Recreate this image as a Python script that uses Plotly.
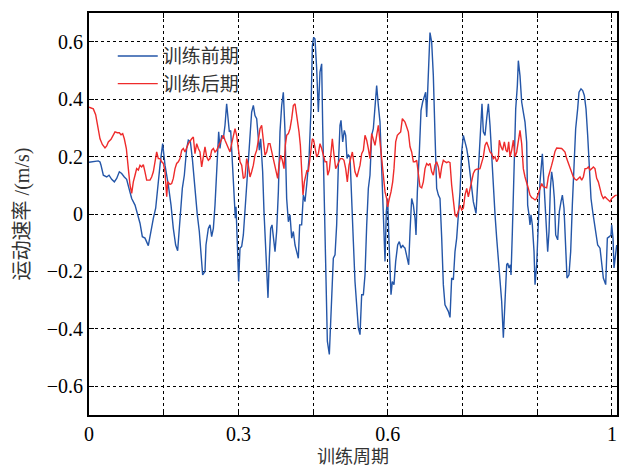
import plotly.graph_objects as go

# ---- data: 训练前期 (before training) ----
pre_x = [0, 0.0054, 0.0120, 0.0187, 0.0221, 0.0241, 0.0288, 0.0321, 0.0355, 0.0402, 0.0455, 0.0509, 0.0556,
         0.0609, 0.0656, 0.0709, 0.0756, 0.0803, 0.0857, 0.0924, 0.0977, 0.1024, 0.1071, 0.1124, 0.1191, 0.1238,
         0.1292, 0.1339, 0.1379, 0.1426, 0.1479, 0.1526, 0.1593, 0.1647, 0.1693, 0.1740, 0.1780, 0.1827, 0.1874,
         0.1914, 0.1961, 0.1995, 0.2035, 0.2075, 0.2095, 0.2128, 0.2175, 0.2215, 0.2262, 0.2282, 0.2329, 0.2349,
         0.2396, 0.2430, 0.2463, 0.2497, 0.2530, 0.2564, 0.2604, 0.2630, 0.2664, 0.2697, 0.2731, 0.2764, 0.2798,
         0.2818, 0.2845, 0.2865, 0.2898, 0.2925, 0.2938, 0.2952, 0.2979, 0.3005, 0.3032, 0.3066, 0.3099, 0.3132,
         0.3166, 0.3199, 0.3233, 0.3266, 0.3300, 0.3333, 0.3367, 0.3400, 0.3420, 0.3447, 0.3487, 0.3514, 0.3554,
         0.3594, 0.3621, 0.3648, 0.3675, 0.3701, 0.3735, 0.3768, 0.3802, 0.3835, 0.3869, 0.3902, 0.3936, 0.3969,
         0.4003, 0.4036, 0.4070, 0.4103, 0.4137, 0.4170, 0.4203, 0.4230, 0.4270, 0.4304, 0.4337, 0.4371, 0.4418,
         0.4458, 0.4485, 0.4511, 0.4538, 0.4572, 0.4605, 0.4638, 0.4672, 0.4692, 0.4725, 0.4759, 0.4786, 0.4826,
         0.4859, 0.4906, 0.4940, 0.4973, 0.5007, 0.5040, 0.5060, 0.5094, 0.5127, 0.5154, 0.5181, 0.5207, 0.5241,
         0.5274, 0.5308, 0.5341, 0.5375, 0.5408, 0.5442, 0.5475, 0.5509, 0.5542, 0.5576, 0.5609, 0.5642, 0.5676,
         0.5709, 0.5743, 0.5776, 0.5810, 0.5843, 0.5877, 0.5910, 0.5944, 0.5970, 0.5997, 0.6024, 0.6064, 0.6091,
         0.6124, 0.6158, 0.6198, 0.6231, 0.6265, 0.6299, 0.6312, 0.6345, 0.6379, 0.6419, 0.6446, 0.6479, 0.6513,
         0.6546, 0.6566, 0.6593, 0.6633, 0.6667, 0.6700, 0.6734, 0.6760, 0.6780, 0.6814, 0.6847, 0.6881, 0.6914,
         0.6948, 0.6981, 0.7015, 0.7048, 0.7082, 0.7115, 0.7148, 0.7182, 0.7215, 0.7249, 0.7282, 0.7316, 0.7349,
         0.7383, 0.7416, 0.7450, 0.7483, 0.7517, 0.7550, 0.7584, 0.7617, 0.7650, 0.7684, 0.7717, 0.7771, 0.7805,
         0.7838, 0.7871, 0.7891, 0.7918, 0.7952, 0.7985, 0.8019, 0.8052, 0.8086, 0.8119, 0.8153, 0.8186, 0.8219,
         0.8253, 0.8286, 0.8320, 0.8353, 0.8387, 0.8407, 0.8434, 0.8460, 0.8474, 0.8501, 0.8534, 0.8568, 0.8601,
         0.8621, 0.8654, 0.8688, 0.8721, 0.8755, 0.8788, 0.8808, 0.8835, 0.8855, 0.8875, 0.8902, 0.8936, 0.8956,
         0.8989, 0.9023, 0.9056, 0.9103, 0.9136, 0.9170, 0.9210, 0.9237, 0.9264, 0.9290, 0.9317, 0.9344, 0.9371,
         0.9411, 0.9444, 0.9478, 0.9505, 0.9538, 0.9565, 0.9598, 0.9638, 0.9672, 0.9705, 0.9739, 0.9772, 0.9812,
         0.9839, 0.9879, 0.9913, 0.9946, 0.9980, 1.0013, 1.0047, 1.0080, 1.0114, 1.0147, 1.0181, 1.0214, 1.0261,
         1.0294, 1.0328, 1.0375, 1.0408, 1.0448, 1.0482, 1.0495, 1.0522, 1.0542, 1.0576, 1.0596]
pre_y = [0.180, 0.181, 0.184, 0.185, 0.181, 0.170, 0.135, 0.133, 0.129, 0.135, 0.121, 0.112, 0.124,
         0.147, 0.141, 0.129, 0.121, 0.089, 0.054, 0.031, -0.003, -0.032, -0.079, -0.084, -0.110, -0.061,
         -0.015, 0.020, 0.101, 0.170, 0.245, 0.170, 0.101, 0.031, -0.050, -0.108, -0.128, -0.027, 0.089,
         0.135, 0.228, 0.257, 0.253, 0.193, 0.147, 0.077, -0.003, -0.061, -0.177, -0.212, -0.200, -0.108,
         -0.050, -0.038, -0.079, -0.050, 0.031, 0.158, 0.286, 0.228, 0.274, 0.262, 0.309, 0.384, 0.320,
         0.286, 0.291, 0.216, 0.101, 0.025, -0.015, 0.025, -0.084, -0.235, -0.119, -0.113, -0.073, 0.008,
         0.077, 0.170, 0.274, 0.355, 0.378, 0.343, 0.332, 0.274, 0.222, 0.262, 0.147, 0.008, -0.154,
         -0.292, -0.154, -0.050, -0.038, -0.073, -0.131, -0.061, 0.077, 0.286, 0.378, 0.424, 0.286, 0.054,
         -0.027, -0.003, -0.084, -0.061, -0.108, -0.131, -0.154, -0.038, -0.038, 0.066, 0.043, 0.101, 0.193,
         0.366, 0.586, 0.615, 0.609, 0.505, 0.355, 0.494, 0.523, 0.309, 0.020, -0.269, -0.443, -0.489,
         -0.362, -0.154, -0.142, -0.038, 0.170, 0.309, 0.326, 0.251, 0.291, 0.274, 0.193, 0.205, 0.199,
         0.077, -0.096, -0.235, -0.327, -0.397, -0.420, -0.281, -0.281, -0.212, -0.038, 0.089, 0.135, 0.274,
         0.297, 0.366, 0.447, 0.378, 0.320, 0.158, -0.027, -0.165, 0.008, 0.054, -0.096, -0.281, -0.235,
         -0.246, -0.165, -0.108, -0.096, -0.119, -0.108, -0.113, -0.119, -0.142, -0.177, -0.061, 0.054, 0.031,
         -0.015, -0.073, 0.077, 0.216, 0.361, 0.390, 0.413, 0.424, 0.338, 0.505, 0.632, 0.598, 0.482,
         0.274, 0.089, 0.066, 0.054, -0.084, -0.246, -0.316, -0.327, -0.339, -0.360, -0.223, -0.229, -0.131,
         -0.084, -0.015, 0.077, 0.216, 0.274, 0.251, 0.228, 0.193, 0.135, 0.077, 0.043, 0.002, 0.124,
         0.239, 0.355, 0.384, 0.286, 0.274, 0.332, 0.384, 0.309, 0.193, 0.077, -0.003, -0.084, -0.154,
         -0.223, -0.304, -0.431, -0.327, -0.177, -0.171, -0.188, -0.177, -0.212, -0.061, 0.158, 0.366, 0.447,
         0.534, 0.482, 0.390, 0.355, 0.320, 0.251, 0.031, -0.003, -0.038, -0.003, -0.038, -0.131, -0.246,
         -0.177, -0.003, 0.112, 0.210, 0.112, 0.008, -0.131, -0.061, 0.089, 0.147, 0.112, 0.054, -0.073,
         -0.090, 0.008, 0.043, 0.066, 0.020, -0.084, -0.223, -0.212, -0.131, 0.031, 0.170, 0.297, 0.366,
         0.424, 0.436, 0.430, 0.413, 0.366, 0.274, 0.158, 0.054, 0.008, -0.027, -0.073, -0.108, -0.119,
         -0.165, -0.223, -0.246, -0.084, -0.079, -0.073, -0.038, -0.084, -0.188, -0.142, -0.108]

# ---- data: 训练后期 (after training) ----
post_x = [0, 0.0087, 0.0134, 0.0174, 0.0221, 0.0268, 0.0321, 0.0355, 0.0388, 0.0442, 0.0489, 0.0522, 0.0569,
          0.0609, 0.0643, 0.0676, 0.0709, 0.0750, 0.0790, 0.0823, 0.0857, 0.0890, 0.0924, 0.0957, 0.0991, 0.1024,
          0.1058, 0.1091, 0.1124, 0.1158, 0.1225, 0.1258, 0.1292, 0.1325, 0.1359, 0.1392, 0.1426, 0.1459, 0.1493,
          0.1526, 0.1560, 0.1580, 0.1627, 0.1660, 0.1693, 0.1727, 0.1760, 0.1794, 0.1827, 0.1861, 0.1894, 0.1928,
          0.1961, 0.1995, 0.2062, 0.2095, 0.2128, 0.2162, 0.2195, 0.2229, 0.2262, 0.2296, 0.2329, 0.2363, 0.2396,
          0.2430, 0.2463, 0.2497, 0.2530, 0.2564, 0.2597, 0.2630, 0.2664, 0.2697, 0.2731, 0.2764, 0.2798, 0.2831,
          0.2865, 0.2898, 0.2932, 0.2965, 0.2999, 0.3032, 0.3066, 0.3099, 0.3132, 0.3166, 0.3199, 0.3233, 0.3266,
          0.3300, 0.3333, 0.3367, 0.3400, 0.3434, 0.3467, 0.3501, 0.3534, 0.3568, 0.3601, 0.3634, 0.3668, 0.3701,
          0.3735, 0.3768, 0.3788, 0.3815, 0.3849, 0.3882, 0.3916, 0.3942, 0.3969, 0.4003, 0.4036, 0.4070, 0.4103,
          0.4137, 0.4170, 0.4203, 0.4217, 0.4244, 0.4270, 0.4297, 0.4324, 0.4351, 0.4377, 0.4404, 0.4431, 0.4458,
          0.4485, 0.4511, 0.4538, 0.4572, 0.4605, 0.4638, 0.4672, 0.4705, 0.4739, 0.4772, 0.4793, 0.4826, 0.4859,
          0.4886, 0.4913, 0.4953, 0.4987, 0.5020, 0.5047, 0.5087, 0.5120, 0.5154, 0.5187, 0.5221, 0.5254, 0.5288,
          0.5315, 0.5341, 0.5381, 0.5408, 0.5442, 0.5475, 0.5509, 0.5542, 0.5576, 0.5609, 0.5642, 0.5676, 0.5709,
          0.5743, 0.5776, 0.5810, 0.5843, 0.5877, 0.5910, 0.5944, 0.5977, 0.5997, 0.6031, 0.6064, 0.6098, 0.6124,
          0.6158, 0.6191, 0.6225, 0.6258, 0.6292, 0.6319, 0.6345, 0.6379, 0.6412, 0.6446, 0.6479, 0.6513, 0.6546,
          0.6580, 0.6613, 0.6646, 0.6680, 0.6713, 0.6747, 0.6780, 0.6814, 0.6847, 0.6881, 0.6914, 0.6948, 0.6981,
          0.7015, 0.7048, 0.7082, 0.7115, 0.7148, 0.7182, 0.7215, 0.7249, 0.7282, 0.7316, 0.7349, 0.7383, 0.7416,
          0.7450, 0.7483, 0.7517, 0.7550, 0.7584, 0.7617, 0.7650, 0.7684, 0.7717, 0.7751, 0.7784, 0.7851, 0.7885,
          0.7918, 0.7952, 0.7985, 0.8019, 0.8052, 0.8086, 0.8119, 0.8153, 0.8186, 0.8219, 0.8239, 0.8273, 0.8306,
          0.8340, 0.8373, 0.8400, 0.8427, 0.8454, 0.8487, 0.8521, 0.8554, 0.8588, 0.8621, 0.8654, 0.8688, 0.8721,
          0.8755, 0.8788, 0.8822, 0.8855, 0.8889, 0.8922, 0.8956, 0.8989, 0.9023, 0.9056, 0.9090, 0.9123, 0.9190,
          0.9223, 0.9257, 0.9290, 0.9324, 0.9357, 0.9391, 0.9458, 0.9491, 0.9525, 0.9558, 0.9592, 0.9625, 0.9658,
          0.9692, 0.9725, 0.9759, 0.9792, 0.9826, 0.9859, 0.9893, 0.9926, 0.9960, 0.9993, 1.0027, 1.0060, 1.0094,
          1.0127, 1.0160, 1.0194, 1.0227, 1.0261, 1.0294, 1.0328, 1.0361, 1.0395, 1.0428, 1.0462, 1.0495, 1.0528,
          1.0562, 1.0596]
post_y = [0.372, 0.366, 0.346, 0.309, 0.262, 0.242, 0.230, 0.237, 0.251, 0.260, 0.274, 0.286, 0.283,
          0.283, 0.276, 0.280, 0.262, 0.228, 0.158, 0.101, 0.072, 0.112, 0.135, 0.158, 0.153, 0.170,
          0.164, 0.172, 0.147, 0.118, 0.118, 0.129, 0.147, 0.182, 0.216, 0.193, 0.193, 0.182, 0.176,
          0.147, 0.060, 0.112, 0.103, 0.106, 0.124, 0.158, 0.176, 0.182, 0.193, 0.222, 0.228, 0.216,
          0.234, 0.245, 0.262, 0.268, 0.210, 0.245, 0.228, 0.216, 0.164, 0.205, 0.234, 0.199, 0.187,
          0.193, 0.222, 0.228, 0.216, 0.222, 0.234, 0.245, 0.262, 0.274, 0.257, 0.245, 0.228, 0.216,
          0.245, 0.274, 0.297, 0.274, 0.216, 0.182, 0.170, 0.124, 0.129, 0.193, 0.170, 0.129, 0.147,
          0.170, 0.205, 0.222, 0.257, 0.297, 0.309, 0.251, 0.205, 0.216, 0.245, 0.245, 0.216, 0.193,
          0.158, 0.141, 0.124, 0.170, 0.205, 0.187, 0.158, 0.239, 0.274, 0.280, 0.297, 0.332, 0.378,
          0.384, 0.343, 0.320, 0.286, 0.239, 0.147, 0.066, 0.112, 0.135, 0.153, 0.147, 0.193, 0.239,
          0.262, 0.257, 0.228, 0.199, 0.210, 0.245, 0.228, 0.199, 0.182, 0.182, 0.135, 0.153, 0.222,
          0.262, 0.216, 0.158, 0.170, 0.182, 0.193, 0.193, 0.187, 0.158, 0.112, 0.170, 0.193, 0.216,
          0.182, 0.147, 0.129, 0.147, 0.170, 0.210, 0.222, 0.274, 0.257, 0.228, 0.193, 0.280, 0.257,
          0.239, 0.274, 0.309, 0.251, 0.193, 0.135, 0.077, 0.054, 0.025, 0.054, 0.077, 0.112, 0.158,
          0.251, 0.274, 0.280, 0.286, 0.332, 0.326, 0.320, 0.303, 0.286, 0.234, 0.216, 0.182, 0.182,
          0.187, 0.147, 0.095, 0.091, 0.112, 0.158, 0.176, 0.170, 0.176, 0.147, 0.135, 0.170, 0.182,
          0.164, 0.124, 0.164, 0.187, 0.182, 0.179, 0.182, 0.179, 0.101, 0.043, -0.003, -0.009, 0.008,
          0.031, 0.014, 0.020, 0.066, 0.089, 0.060, 0.089, 0.112, 0.141, 0.153, 0.156, 0.158, 0.182,
          0.199, 0.239, 0.251, 0.234, 0.216, 0.210, 0.193, 0.199, 0.182, 0.193, 0.257, 0.234, 0.222,
          0.251, 0.222, 0.216, 0.251, 0.199, 0.222, 0.257, 0.199, 0.216, 0.262, 0.291, 0.245, 0.158,
          0.129, 0.112, 0.089, 0.066, 0.057, 0.054, 0.049, 0.054, 0.072, 0.089, 0.106, 0.095, 0.091,
          0.129, 0.147, 0.170, 0.193, 0.218, 0.230, 0.228, 0.228, 0.222, 0.216, 0.193, 0.176, 0.158,
          0.147, 0.129, 0.121, 0.118, 0.124, 0.129, 0.118, 0.129, 0.158, 0.158, 0.164, 0.153, 0.158,
          0.164, 0.158, 0.124, 0.112, 0.089, 0.066, 0.054, 0.060, 0.054, 0.049, 0.043, 0.054, 0.060,
          0.064, 0.066]

series_names = ["训练前期", "训练后期"]
x_tick_vals = [0, 0.15, 0.3, 0.45, 0.6, 0.75, 0.9, 1.05]
x_tick_text = ["0", "", "0.3", "", "0.6", "", "", "1"]
y_tick_vals = [-0.6, -0.4, -0.2, 0, 0.2, 0.4, 0.6]
x_title = "训练周期"
y_title = "运动速率 /(m/s)"

NUM_FONT = "Liberation Serif, Times New Roman, Times, serif"
MIX_FONT = "Liberation Serif, Times New Roman, Noto Sans CJK SC, serif"
CJK_FONT = "Noto Sans CJK SC"

fig = go.Figure()
fig.add_trace(go.Scatter(x=pre_x, y=pre_y, mode="lines", name=series_names[0],
                         line=dict(color="#2456a8", width=1.4)))
fig.add_trace(go.Scatter(x=post_x, y=post_y, mode="lines", name=series_names[1],
                         line=dict(color="#ee2b2b", width=1.4)))

axis_common = dict(
    showline=True, linecolor="black", linewidth=2, mirror="allticks",
    ticks="inside", ticklen=5, tickwidth=1.2, tickcolor="black",
    showgrid=True, gridcolor="black", gridwidth=1, griddash="dot",
    zeroline=False, automargin=False,
)

fig.update_layout(
    template="none",
    width=622, height=468,
    margin=dict(l=89, r=5, t=13, b=53),
    paper_bgcolor="white", plot_bgcolor="white",
    font=dict(family=NUM_FONT, color="black"),
    showlegend=True,
    legend=dict(x=0.045, y=0.94, xanchor="left", yanchor="top",
                bgcolor="rgba(0,0,0,0)", borderwidth=0,
                font=dict(family=CJK_FONT, size=19, color="#333333"),
                tracegroupgap=0, itemwidth=40),
    xaxis=dict(range=[0, 1.0602], tickvals=x_tick_vals, ticktext=x_tick_text, ticklabelstandoff=0,
               tickfont=dict(family=NUM_FONT, size=20, color="black"),
               title=dict(text=x_title, font=dict(family=CJK_FONT, size=18, color="#333333"), standoff=5),
               **axis_common),
    yaxis=dict(range=[-0.7, 0.7], tickvals=y_tick_vals,
               tickfont=dict(family=NUM_FONT, size=20, color="black"),
               title=dict(text=y_title, font=dict(family=MIX_FONT, size=20, color="#333333"), standoff=12),
               **axis_common),
)

fig.write_html("out.html", config={"displayModeBar": False},
               post_script="document.body.style.margin='0';document.body.style.padding='0';")
